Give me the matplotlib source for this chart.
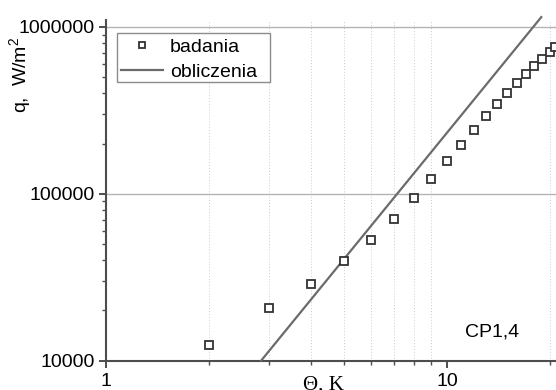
import numpy as np
import matplotlib
matplotlib.use("Agg")
import matplotlib.pyplot as plt
from matplotlib.patches import Rectangle
from matplotlib.ticker import LogLocator, NullFormatter

plt.rcParams['font.family'] = ['Liberation Sans', 'DejaVu Sans']
plt.rcParams['mathtext.fontset'] = 'custom'
plt.rcParams['mathtext.rm'] = 'Liberation Sans'

# measured points (badania)
theta_exp = [2.0, 3.0, 4.0, 5.0, 6.0, 7.0, 8.0, 9.0, 10.0, 11.0, 12.0, 13.0,
             14.0, 15.0, 16.0, 17.0, 18.0, 19.0, 20.0, 20.8]
q_exp = [12400, 20700, 28800, 39400, 52600, 70800, 94700, 123000, 158000,
         196000, 241000, 291000, 346000, 402000, 462000, 523000, 587000,
         641000, 703000, 759000]

# calculated line (obliczenia)
theta_calc = [2.85, 18.9]
q_calc = [10000, 1.145e6]

W, H = 556, 390
fig = plt.figure(figsize=(W / 100, H / 100), dpi=100)
ax = fig.add_axes([0.1906, 0.0751, 0.811, 0.8736])
ax.set_xscale("log")
ax.set_yscale("log")
ax.set_xlim(1, 21)
ax.set_ylim(1e4, 1.1e6)

# grid
ax.xaxis.set_minor_locator(LogLocator(base=10, subs=np.arange(2, 10)))
ax.yaxis.set_minor_locator(LogLocator(base=10, subs=np.arange(2, 10)))
ax.xaxis.set_minor_formatter(NullFormatter())
ax.yaxis.set_minor_formatter(NullFormatter())
ax.grid(which="minor", axis="x", ls=(0, (1, 2)), color="0.8", lw=0.7)
ax.grid(which="major", axis="y", ls="-", color="0.7", lw=1.0)
ax.set_axisbelow(True)

ax.plot(theta_calc, q_calc, color="0.42", lw=1.6, clip_on=False,
        label="obliczenia", zorder=3)
ax.plot(theta_exp, q_exp, ls="none", marker="s", ms=5.8, mfc="white",
        mec="0.2", mew=1.3, label="badania", zorder=4)

for side in ("top", "right"):
    ax.spines[side].set_visible(False)
for side in ("left", "bottom"):
    ax.spines[side].set_color("0.3")
    ax.spines[side].set_linewidth(1.5)

ax.tick_params(which="major", direction="out", length=5, width=1.3,
               colors="0.25", labelsize=14, labelcolor="black", pad=3)
ax.tick_params(which="minor", direction="out", length=3, width=1.0,
               colors="0.3")
ax.set_xticks([1, 10])
ax.set_xticklabels(["1", "10"])
ax.set_yticks([1e4, 1e5, 1e6])
ax.set_yticklabels(["10000", "100000", "1000000"])
ax.tick_params(axis="x", which="major", pad=4)

ax.set_xlabel("Θ, K", family=["Liberation Serif", "DejaVu Serif"],
              fontsize=15)
ax.xaxis.set_label_coords((324 - 106) / 451, -0.044, transform=ax.transAxes)
ax.xaxis.label.set_va("top")

fig.text(21 / W, 1 - 74.5 / H, r"q,  W/m$^2$", rotation=90, fontsize=14,
         ha="center", va="center")

ax.text(465 / W, 1 - 332 / H, "CP1,4", transform=fig.transFigure,
        fontsize=14, ha="left", va="center")

# legend (frame drawn separately to match the wide right padding)
h, l = ax.get_legend_handles_labels()
leg = ax.legend(h[::-1], l[::-1], loc="upper left",
                bbox_to_anchor=(121 / W, 1 - 38 / H),
                bbox_transform=fig.transFigure, fontsize=14, frameon=False,
                handlelength=2.16, handletextpad=0.36, borderpad=0.0,
                labelspacing=0.38, borderaxespad=0.0, markerscale=0.75)
leg.set_zorder(6)
ax.add_patch(Rectangle((117 / W, 1 - 82 / H), 153 / W, 49 / H,
                       transform=fig.transFigure, fill=True,
                       facecolor="white", edgecolor="0.55", lw=1.0,
                       zorder=5, clip_on=False))

fig.savefig("out.png", dpi=100)
